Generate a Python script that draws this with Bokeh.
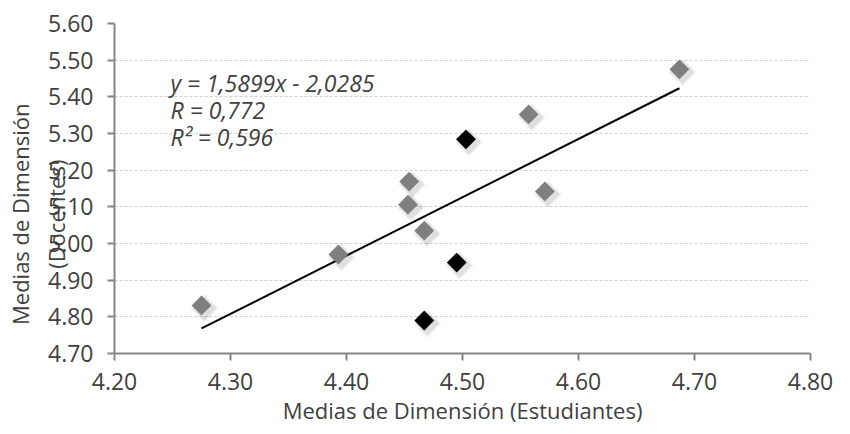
import numpy as np
from bokeh.plotting import figure
from bokeh.models import ColumnDataSource, Label, FixedTicker, NumeralTickFormatter
from bokeh.transform import dodge
from bokeh.embed import file_html
from bokeh.resources import INLINE

# Data
gray_x = [4.275, 4.393, 4.454, 4.453, 4.467, 4.557, 4.571, 4.687]
gray_y = [4.831, 4.970, 5.169, 5.106, 5.035, 5.352, 5.142, 5.475]
black_x = [4.503, 4.495, 4.467]
black_y = [5.284, 4.948, 4.790]
slope = 1.5899
intercept = -2.0285
x_ticks = [4.20, 4.30, 4.40, 4.50, 4.60, 4.70, 4.80]
y_ticks = [4.70, 4.80, 4.90, 5.00, 5.10, 5.20, 5.30, 5.40, 5.50, 5.60]
eq_lines = ["y = 1,5899x - 2,0285", "R = 0,772", "R\u00b2 = 0,596"]
x_title = "Medias de Dimensi\u00f3n (Estudiantes)"
y_title = ["Medias de Dimensi\u00f3n", "(Docentes)"]

FONT = "Open Sans"
TXT = "#404040"
FW, FH = 696, 330

p = figure(width=834, height=430, output_backend="svg", toolbar_location=None,
           x_range=(4.20, 4.80), y_range=(4.70, 5.60),
           min_border_left=114, min_border_right=24, min_border_top=23, min_border_bottom=77)
p.outline_line_color = None
p.background_fill_color = "white"
p.border_fill_color = "white"

p.xaxis.ticker = FixedTicker(ticks=x_ticks)
p.yaxis.ticker = FixedTicker(ticks=y_ticks)
p.xaxis.formatter = NumeralTickFormatter(format="0.00")
p.yaxis.formatter = NumeralTickFormatter(format="0.00")
for ax in (p.xaxis, p.yaxis):
    ax.axis_line_color = "#868686"
    ax.axis_line_width = 2
    ax.major_tick_line_color = "#868686"
    ax.major_tick_line_width = 2
    ax.major_tick_out = 7
    ax.major_tick_in = 0
    ax.minor_tick_line_color = None
    ax.major_label_text_font = FONT
    ax.major_label_text_font_size = "23px"
    ax.major_label_text_color = TXT
    ax.axis_label_text_font = FONT
    ax.axis_label_text_font_size = "22px"
    ax.axis_label_text_font_style = "normal"
    ax.axis_label_text_color = TXT

pad = "\u00a0" * 9
p.xaxis.axis_label = x_title
p.xaxis.major_label_standoff = 12
p.xaxis.axis_label_standoff = 2
p.yaxis.axis_label = "\n".join(t + pad for t in y_title)
p.yaxis.major_label_standoff = 14
p.yaxis.axis_label_standoff = -26

p.xgrid.grid_line_color = None
p.ygrid.grid_line_color = "#d0d0d0"
p.ygrid.grid_line_dash = "3 2"
p.ygrid.grid_line_width = 1

# trend line from the given regression coefficients
all_x = gray_x + black_x
lx = np.array([min(all_x), max(all_x)])
p.line(lx, slope * lx + intercept, line_color="black", line_width=2)

# soft shadows (offset by ~3px)
gsrc = ColumnDataSource(dict(x=gray_x, y=gray_y))
bsrc = ColumnDataSource(dict(x=black_x, y=black_y))
dx = 3 * 0.6 / FW
dy = -3 * 0.9 / FH
for src in (gsrc, bsrc):
    for s, a in ((20, 0.05), (17, 0.08)):
        p.scatter(x=dodge("x", dx), y=dodge("y", dy), source=src, marker="square",
                  size=s, angle=np.pi / 4, fill_color="#000000", fill_alpha=a,
                  line_color=None)
p.scatter(x="x", y="y", source=gsrc, marker="square", size=14, angle=np.pi / 4,
          fill_color="#7f7f7f", line_color=None)
p.scatter(x="x", y="y", source=bsrc, marker="square", size=14, angle=np.pi / 4,
          fill_color="#000000", line_color=None)

for i, t in enumerate(eq_lines):
    p.add_layout(Label(x=56, y=FH - 59 - 27 * i, x_units="screen", y_units="screen",
                       text=t, text_font=FONT, text_font_style="italic",
                       text_font_size="23px", text_color=TXT,
                       text_baseline="middle", text_align="left"))

open("out.html", "w").write(file_html(p, INLINE))
